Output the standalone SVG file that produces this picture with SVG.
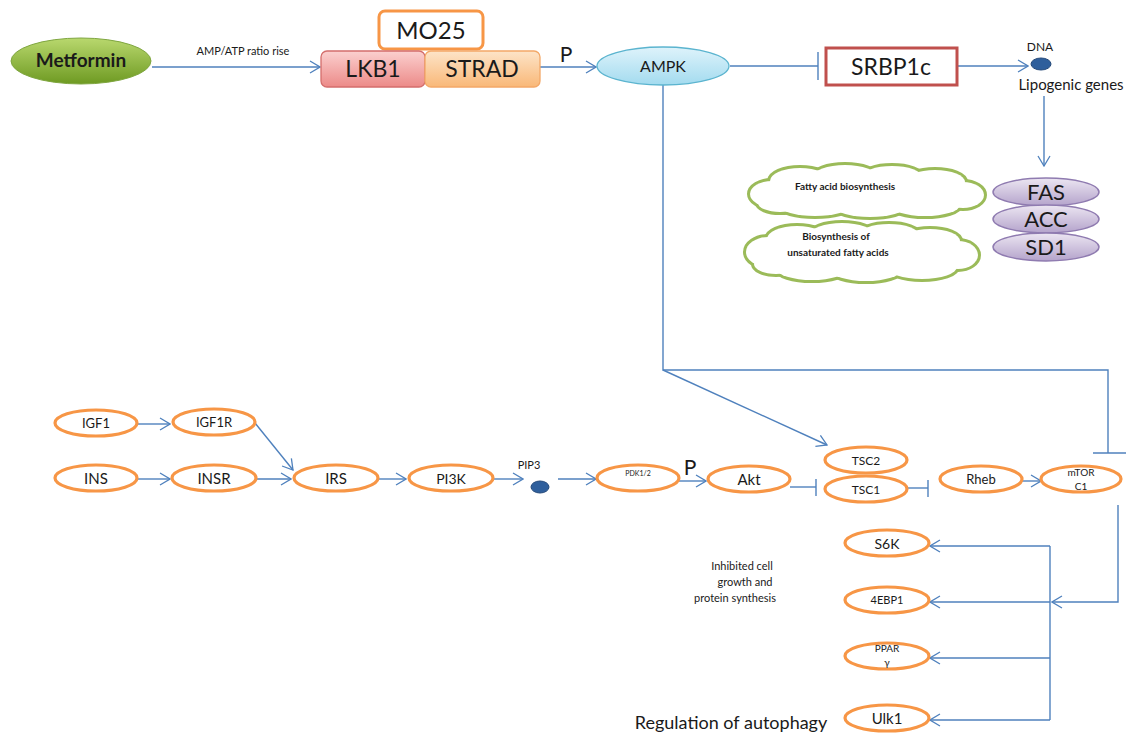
<svg xmlns="http://www.w3.org/2000/svg" width="1140" height="734" viewBox="0 0 1140 734">
<defs>
<linearGradient id="gMet" x1="0" y1="0" x2="0" y2="1"><stop offset="0" stop-color="#b9d86e"/><stop offset="1" stop-color="#6e9a22"/></linearGradient>
<linearGradient id="gLkb" x1="0" y1="0" x2="0" y2="1"><stop offset="0" stop-color="#fbd0cf"/><stop offset="1" stop-color="#ec8a88"/></linearGradient>
<linearGradient id="gStr" x1="0" y1="0" x2="0" y2="1"><stop offset="0" stop-color="#fde4c8"/><stop offset="1" stop-color="#f9b878"/></linearGradient>
<linearGradient id="gAmp" x1="0" y1="0" x2="0" y2="1"><stop offset="0" stop-color="#def3fb"/><stop offset="1" stop-color="#a3dbef"/></linearGradient>
<linearGradient id="gPur" x1="0" y1="0" x2="0" y2="1"><stop offset="0" stop-color="#ece6f2"/><stop offset="1" stop-color="#b4a3cb"/></linearGradient>
<marker id="arr" markerUnits="userSpaceOnUse" markerWidth="12" markerHeight="14" refX="11" refY="7" orient="auto"><path d="M1,1 L11,7 L1,13" fill="none" stroke="#4f81bd" stroke-width="1.3"/></marker>
</defs>
<style>
.ln{fill:none;stroke:#4f81bd;stroke-width:1.4}
.on{fill:#fff;stroke:#f79646;stroke-width:3.2}
.t{font-family:Lato,"Liberation Sans",sans-serif;fill:#1a1a1a;text-anchor:middle}
.cl{fill:none;stroke:#9bbb59;stroke-width:6}
.cf{fill:#fff;stroke:none}
.pur{fill:url(#gPur);stroke:#8f7bb0;stroke-width:1.5}
.dot{fill:#2f5f9c;stroke:#24497a;stroke-width:1}
</style>
<rect width="1140" height="734" fill="#fff"/>

<g id="connectors">
<line class="ln" x1="152" y1="67" x2="320" y2="67" marker-end="url(#arr)"/>
<line class="ln" x1="540" y1="67" x2="596" y2="67" marker-end="url(#arr)"/>
<line class="ln" x1="730" y1="66" x2="818" y2="66"/>
<line class="ln" x1="818" y1="52" x2="818" y2="80"/>
<line class="ln" x1="958" y1="66" x2="1028" y2="66" marker-end="url(#arr)"/>
<line class="ln" x1="1044" y1="96" x2="1044" y2="166" marker-end="url(#arr)"/>
<polyline class="ln" points="663,85 663,370 1108,370 1108,453"/>
<line class="ln" x1="1093" y1="453" x2="1126" y2="453"/>
<line class="ln" x1="663" y1="370" x2="827" y2="445" marker-end="url(#arr)"/>
<line class="ln" x1="138" y1="424" x2="170" y2="424" marker-end="url(#arr)"/>
<line class="ln" x1="255" y1="423" x2="293" y2="470" marker-end="url(#arr)"/>
<line class="ln" x1="138" y1="479" x2="170" y2="479" marker-end="url(#arr)"/>
<line class="ln" x1="256" y1="479" x2="291" y2="479" marker-end="url(#arr)"/>
<line class="ln" x1="379" y1="479" x2="406" y2="479" marker-end="url(#arr)"/>
<line class="ln" x1="494" y1="479" x2="523" y2="479" marker-end="url(#arr)"/>
<line class="ln" x1="558" y1="479" x2="596" y2="479" marker-end="url(#arr)"/>
<line class="ln" x1="679" y1="481" x2="706" y2="481" marker-end="url(#arr)"/>
<line class="ln" x1="790" y1="487" x2="816" y2="487"/>
<line class="ln" x1="816" y1="479" x2="816" y2="496"/>
<line class="ln" x1="908" y1="488" x2="928" y2="488"/>
<line class="ln" x1="928" y1="480" x2="928" y2="497"/>
<line class="ln" x1="1022" y1="481" x2="1041" y2="481" marker-end="url(#arr)"/>
<polyline class="ln" points="1118,505 1118,602 1052,602" marker-end="url(#arr)"/>
<line class="ln" x1="1050" y1="546" x2="1050" y2="720"/>
<line class="ln" x1="1050" y1="546" x2="930" y2="546" marker-end="url(#arr)"/>
<line class="ln" x1="1050" y1="602" x2="930" y2="602" marker-end="url(#arr)"/>
<line class="ln" x1="1050" y1="658" x2="930" y2="658" marker-end="url(#arr)"/>
<line class="ln" x1="1050" y1="720" x2="930" y2="720" marker-end="url(#arr)"/>
</g>

<text class="t" x="243" y="55" font-size="11">AMP/ATP ratio rise</text>
<text class="t" x="566" y="62" font-size="21">P</text>
<text class="t" x="690" y="475" font-size="21">P</text>

<g id="metformin">
<ellipse cx="81" cy="61" rx="70" ry="23" fill="url(#gMet)" stroke="#7fa640" stroke-width="1"/>
<text class="t" x="81" y="67" font-size="19" font-weight="bold" fill="#1f2a12">Metformin</text>
</g>
<g id="mo25">
<rect x="379" y="11" width="104" height="38" rx="6" fill="#fff" stroke="#f79646" stroke-width="3"/>
<text class="t" x="431" y="39" font-size="24">MO25</text>
</g>
<g id="lkb1">
<rect x="321" y="51" width="104" height="36" rx="6" fill="url(#gLkb)" stroke="#d46e6c" stroke-width="1.3"/>
<text class="t" x="373" y="77" font-size="23">LKB1</text>
</g>
<g id="strad">
<rect x="425" y="51" width="115" height="36" rx="6" fill="url(#gStr)" stroke="#f3a868" stroke-width="1.3"/>
<text class="t" x="482" y="77" font-size="23">STRAD</text>
</g>
<g id="ampk">
<ellipse cx="663" cy="66" rx="66" ry="19" fill="url(#gAmp)" stroke="#5bb4cf" stroke-width="1.3"/>
<text class="t" x="663" y="72" font-size="16">AMPK</text>
</g>
<g id="srbp1c">
<rect x="826" y="48" width="131" height="37" fill="#fff" stroke="#c0504d" stroke-width="3"/>
<text class="t" x="891" y="75" font-size="23">SRBP1c</text>
</g>
<g id="dna">
<ellipse class="dot" cx="1041" cy="64" rx="10" ry="6"/>
<text class="t" x="1040" y="51" font-size="12">DNA</text>
<text class="t" x="1071" y="90" font-size="15">Lipogenic genes</text>
</g>

<g id="cloud1">
<g class="cl">
<ellipse cx="772" cy="194" rx="22" ry="13"/>
<ellipse cx="800" cy="181" rx="30" ry="13"/>
<ellipse cx="845" cy="177" rx="32" ry="12"/>
<ellipse cx="892" cy="177" rx="30" ry="11"/>
<ellipse cx="935" cy="182" rx="30" ry="12"/>
<ellipse cx="963" cy="195" rx="21" ry="13"/>
<ellipse cx="925" cy="205" rx="35" ry="11"/>
<ellipse cx="870" cy="207" rx="35" ry="10"/>
<ellipse cx="815" cy="206" rx="35" ry="10"/>
<ellipse cx="780" cy="203" rx="22" ry="9"/>
</g>
<g class="cf">
<ellipse cx="772" cy="194" rx="22" ry="13"/>
<ellipse cx="800" cy="181" rx="30" ry="13"/>
<ellipse cx="845" cy="177" rx="32" ry="12"/>
<ellipse cx="892" cy="177" rx="30" ry="11"/>
<ellipse cx="935" cy="182" rx="30" ry="12"/>
<ellipse cx="963" cy="195" rx="21" ry="13"/>
<ellipse cx="925" cy="205" rx="35" ry="11"/>
<ellipse cx="870" cy="207" rx="35" ry="10"/>
<ellipse cx="815" cy="206" rx="35" ry="10"/>
<ellipse cx="780" cy="203" rx="22" ry="9"/>
<rect x="775" y="182" width="180" height="22"/>
</g>
<text class="t" x="845" y="190" font-size="10" font-weight="bold" fill="#333">Fatty acid biosynthesis</text>
</g>

<g id="cloud2">
<g class="cl">
<ellipse cx="768" cy="252" rx="22" ry="15"/>
<ellipse cx="797" cy="239" rx="30" ry="13"/>
<ellipse cx="842" cy="235" rx="32" ry="12"/>
<ellipse cx="889" cy="235" rx="30" ry="11"/>
<ellipse cx="930" cy="241" rx="30" ry="12"/>
<ellipse cx="958" cy="255" rx="20" ry="14"/>
<ellipse cx="922" cy="267" rx="35" ry="12"/>
<ellipse cx="866" cy="270" rx="35" ry="11"/>
<ellipse cx="812" cy="269" rx="35" ry="11"/>
<ellipse cx="776" cy="264" rx="22" ry="10"/>
</g>
<g class="cf">
<ellipse cx="768" cy="252" rx="22" ry="15"/>
<ellipse cx="797" cy="239" rx="30" ry="13"/>
<ellipse cx="842" cy="235" rx="32" ry="12"/>
<ellipse cx="889" cy="235" rx="30" ry="11"/>
<ellipse cx="930" cy="241" rx="30" ry="12"/>
<ellipse cx="958" cy="255" rx="20" ry="14"/>
<ellipse cx="922" cy="267" rx="35" ry="12"/>
<ellipse cx="866" cy="270" rx="35" ry="11"/>
<ellipse cx="812" cy="269" rx="35" ry="11"/>
<ellipse cx="776" cy="264" rx="22" ry="10"/>
<rect x="772" y="240" width="180" height="28"/>
</g>
<text class="t" x="836" y="240" font-size="10" font-weight="bold" fill="#333">Biosynthesis of</text>
<text class="t" x="838" y="256" font-size="10" font-weight="bold" fill="#333">unsaturated fatty acids</text>
</g>

<g id="fas"><ellipse class="pur" cx="1046" cy="192" rx="53" ry="14"/><text class="t" x="1046" y="200" font-size="22">FAS</text></g>
<g id="acc"><ellipse class="pur" cx="1046" cy="219" rx="53" ry="14"/><text class="t" x="1046" y="227" font-size="22">ACC</text></g>
<g id="sd1"><ellipse class="pur" cx="1046" cy="247" rx="53" ry="14"/><text class="t" x="1046" y="255" font-size="22">SD1</text></g>

<g id="igf1"><ellipse class="on" cx="96" cy="423" rx="41" ry="13"/><text class="t" x="96" y="428" font-size="13">IGF1</text></g>
<g id="igf1r"><ellipse class="on" cx="214" cy="422" rx="41" ry="13"/><text class="t" x="214" y="427" font-size="13">IGF1R</text></g>
<g id="ins"><ellipse class="on" cx="96" cy="478" rx="41" ry="13"/><text class="t" x="96" y="484" font-size="15">INS</text></g>
<g id="insr"><ellipse class="on" cx="214" cy="478" rx="42" ry="13"/><text class="t" x="214" y="484" font-size="15">INSR</text></g>
<g id="irs"><ellipse class="on" cx="336" cy="478" rx="42" ry="13"/><text class="t" x="336" y="484" font-size="15">IRS</text></g>
<g id="pi3k"><ellipse class="on" cx="451" cy="478" rx="42" ry="13"/><text class="t" x="451" y="484" font-size="14">PI3K</text></g>
<g id="pip3"><ellipse class="dot" cx="540" cy="487" rx="9" ry="6"/><text class="t" x="529" y="469" font-size="11">PIP3</text></g>
<g id="pdk"><ellipse class="on" cx="638" cy="478" rx="41" ry="13"/><text class="t" x="638" y="476" font-size="7">PDK1/2</text></g>
<g id="akt"><ellipse class="on" cx="749" cy="479" rx="41" ry="13"/><text class="t" x="749" y="485" font-size="15">Akt</text></g>
<g id="tsc2"><ellipse class="on" cx="866" cy="460" rx="41" ry="13"/><text class="t" x="866" y="465" font-size="12">TSC2</text></g>
<g id="tsc1"><ellipse class="on" cx="866" cy="489" rx="41" ry="13"/><text class="t" x="866" y="494" font-size="12">TSC1</text></g>
<g id="rheb"><ellipse class="on" cx="981" cy="479" rx="41" ry="13"/><text class="t" x="981" y="484" font-size="13">Rheb</text></g>
<g id="mtorc1"><ellipse class="on" cx="1081" cy="479" rx="40" ry="13"/><text class="t" x="1081" y="476" font-size="10">mTOR</text><text class="t" x="1081" y="490" font-size="10">C1</text></g>

<g id="s6k"><ellipse class="on" cx="887" cy="543" rx="42" ry="13"/><text class="t" x="887" y="549" font-size="14">S6K</text></g>
<g id="4ebp1"><ellipse class="on" cx="887" cy="600" rx="42" ry="13"/><text class="t" x="887" y="604" font-size="11">4EBP1</text></g>
<g id="pparg"><ellipse class="on" cx="887" cy="656" rx="42" ry="13"/><text class="t" x="887" y="652" font-size="10">PPAR</text><text class="t" x="887" y="666" font-size="10">γ</text></g>
<g id="ulk1"><ellipse class="on" cx="887" cy="718" rx="42" ry="13"/><text class="t" x="887" y="724" font-size="15">Ulk1</text></g>

<text class="t" x="742" y="570" font-size="11">Inhibited cell</text>
<text class="t" x="745" y="586" font-size="11">growth and</text>
<text class="t" x="735" y="602" font-size="11">protein synthesis</text>
<text class="t" x="731" y="729" font-size="18">Regulation of autophagy</text>
</svg>
